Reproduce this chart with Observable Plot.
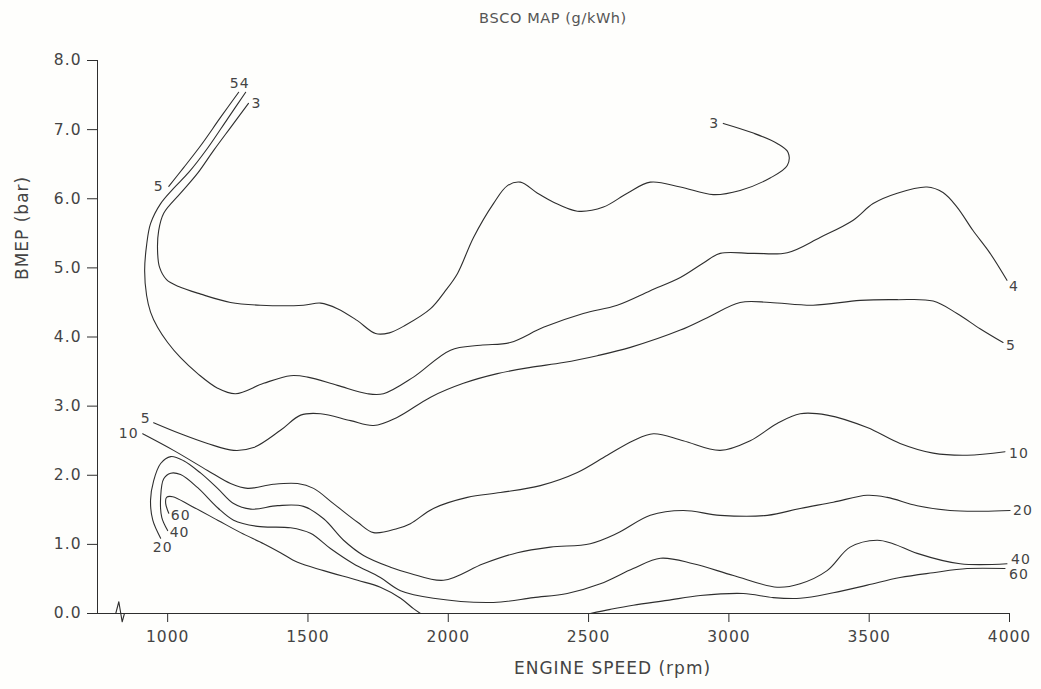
<!DOCTYPE html>
<html><head><meta charset="utf-8">
<script src="https://cdn.jsdelivr.net/npm/d3@7"></script>
<script src="https://cdn.jsdelivr.net/npm/@observablehq/plot@0.6"></script>
<style>
body{margin:0;background:#fefefc;}
#title{height:36px;padding-left:97px;width:912px;text-align:center;font-family:"DejaVu Sans";font-size:14.5px;letter-spacing:0.6px;color:#555;line-height:36px;}
#chart svg text{letter-spacing:1px;}
</style></head><body>
<div id="title">BSCO MAP (g/kWh)</div>
<div id="chart"></div>
<script>
// Axis setup (rpm, bar)
const xDomain = [750, 4000];
const yDomain = [0, 8];
const xTicks = [1000, 1500, 2000, 2500, 3000, 3500, 4000];
const yTicks = [0, 1, 2, 3, 4, 5, 6, 7, 8];
const axisBreak = [[815, 0], [826, 0.17], [838, -0.12], [846, 0]];

// Contours of BSCO (g/kWh): [engine speed rpm, BMEP bar]
const c3 = [[1288,7.38],[1224,7.03],[1164,6.70],[1107,6.37],[1046,6.08],[986,5.79],[968,5.54],[964,5.25],[971,5.01],[996,4.83],[1039,4.73],[1118,4.62],[1224,4.50],[1331,4.46],[1484,4.46],[1545,4.49],[1605,4.41],[1675,4.24],[1741,4.05],[1790,4.06],[1847,4.17],[1937,4.41],[1990,4.67],[2033,4.92],[2090,5.44],[2161,5.93],[2211,6.19],[2257,6.24],[2318,6.08],[2375,5.95],[2460,5.82],[2553,5.88],[2638,6.08],[2720,6.24],[2827,6.17],[2944,6.06],[3040,6.12],[3147,6.30],[3208,6.48],[3211,6.67],[3172,6.80],[3087,6.95],[2980,7.09]];
const c4 = [[1278,7.54],[1214,7.16],[1142,6.73],[1075,6.38],[1021,6.15],[975,5.93],[939,5.64],[925,5.33],[918,4.96],[925,4.60],[939,4.36],[964,4.14],[1000,3.92],[1046,3.70],[1107,3.47],[1178,3.26],[1242,3.18],[1342,3.33],[1438,3.44],[1499,3.42],[1605,3.30],[1712,3.18],[1769,3.18],[1876,3.42],[2008,3.81],[2115,3.88],[2221,3.92],[2339,4.14],[2481,4.34],[2602,4.46],[2720,4.67],[2827,4.86],[2909,5.07],[2969,5.21],[3087,5.21],[3208,5.22],[3325,5.44],[3443,5.69],[3514,5.93],[3600,6.08],[3706,6.17],[3763,6.09],[3813,5.88],[3870,5.54],[3931,5.21],[3991,4.82]];
const c5a = [[1253,7.54],[1189,7.18],[1118,6.77],[1057,6.45],[1004,6.18]];
const c5b = [[950,2.76],[1046,2.60],[1142,2.46],[1235,2.36],[1306,2.40],[1402,2.65],[1474,2.87],[1545,2.89],[1652,2.79],[1734,2.72],[1819,2.84],[1937,3.13],[2054,3.33],[2175,3.47],[2293,3.56],[2410,3.63],[2531,3.73],[2649,3.85],[2827,4.10],[2923,4.28],[3040,4.50],[3147,4.50],[3300,4.46],[3468,4.53],[3600,4.54],[3728,4.52],[3813,4.34],[3895,4.12],[3977,3.92]];
const c10 = [[911,2.60],[1021,2.36],[1142,2.07],[1224,1.88],[1285,1.81],[1377,1.87],[1463,1.88],[1520,1.81],[1591,1.59],[1677,1.32],[1734,1.17],[1819,1.23],[1865,1.30],[1947,1.52],[2068,1.68],[2186,1.75],[2328,1.85],[2460,2.04],[2567,2.29],[2659,2.50],[2731,2.60],[2837,2.50],[2969,2.36],[3076,2.50],[3172,2.75],[3254,2.89],[3350,2.87],[3493,2.69],[3610,2.46],[3728,2.32],[3849,2.29],[3984,2.34]];
const c20 = [[975,1.09],[947,1.35],[939,1.64],[950,1.92],[975,2.17],[1011,2.27],[1057,2.21],[1118,2.03],[1178,1.81],[1235,1.59],[1296,1.51],[1392,1.56],[1484,1.55],[1556,1.37],[1627,1.06],[1698,0.84],[1794,0.67],[1865,0.58],[1983,0.48],[2125,0.72],[2246,0.88],[2364,0.96],[2506,1.01],[2602,1.16],[2720,1.42],[2837,1.49],[2969,1.42],[3137,1.42],[3254,1.52],[3372,1.61],[3493,1.71],[3564,1.68],[3671,1.56],[3788,1.49],[3906,1.48],[4002,1.49]];
const c40 = [[1000,1.20],[979,1.39],[975,1.68],[986,1.95],[1011,2.03],[1046,2.01],[1107,1.82],[1178,1.53],[1235,1.35],[1320,1.26],[1438,1.24],[1509,1.16],[1580,0.94],[1662,0.72],[1758,0.52],[1830,0.33],[1947,0.22],[2161,0.16],[2303,0.23],[2424,0.29],[2542,0.43],[2659,0.65],[2756,0.80],[2873,0.72],[3016,0.55],[3172,0.38],[3254,0.43],[3350,0.62],[3432,0.96],[3528,1.06],[3585,1.01],[3671,0.87],[3824,0.72],[3991,0.72]];
const c60a = [[1004,1.45],[993,1.59],[996,1.68],[1018,1.69],[1082,1.56],[1178,1.35],[1260,1.17],[1342,1.01],[1402,0.88],[1463,0.74],[1556,0.62],[1677,0.48],[1758,0.38],[1830,0.22],[1876,0.07],[1901,0]];
const c60b = [[2506,0],[2578,0.06],[2659,0.12],[2780,0.19],[2898,0.26],[3051,0.29],[3158,0.23],[3254,0.22],[3372,0.30],[3493,0.41],[3610,0.52],[3728,0.59],[3849,0.65],[3984,0.65]];

const contours = {c3, c4, c5a, c5b, c10, c20, c40, c60a, c60b};
const endPoint = (name, at) => {
  const a = contours[name];
  const p = at === "start" ? a[0] : a[a.length - 1];
  return [{x: p[0], y: p[1]}];
};
const ink = "#2e2e2e";
const textInk = "#444";
const lbl = (text, name, at, opts) =>
  Plot.text(endPoint(name, at), {x: "x", y: "y", text: () => text, fontSize: 14, fill: textInk, ...opts});

const lineMarks = Object.values(contours).map(a =>
  Plot.line(a, {x: d => d[0], y: d => d[1], curve: "catmull-rom", stroke: ink, strokeWidth: 1.1}));

const chart = Plot.plot({
  width: 1041,
  height: 653,
  marginTop: 24,
  marginBottom: 76,
  marginLeft: 97,
  marginRight: 32,
  style: {fontFamily: "DejaVu Sans", background: "transparent", color: textInk},
  x: {domain: xDomain},
  y: {domain: yDomain},
  marks: [
    Plot.ruleY([yDomain[0]], {stroke: ink, strokeWidth: 1}),
    Plot.ruleX([xDomain[0]], {stroke: ink, strokeWidth: 1}),
    Plot.axisX({ticks: xTicks, tickFormat: d3.format("d"), tickSize: 9, tickPadding: 8, fontSize: 15.5, label: null, stroke: ink, fill: textInk}),
    Plot.axisY({ticks: yTicks, tickFormat: d3.format(".1f"), tickSize: 10, tickPadding: 6, fontSize: 15.5, label: null, stroke: ink, fill: textInk}),
    Plot.line(axisBreak, {x: d => d[0], y: d => d[1], stroke: ink, strokeWidth: 1.1, clip: false}),
    ...lineMarks,
    lbl("5", "c5a", "start", {dx: -4, dy: -9}),
    lbl("4", "c4", "start", {dx: -1, dy: -9}),
    lbl("3", "c3", "start", {textAnchor: "start", dx: 3, dy: 0}),
    lbl("5", "c5a", "end", {textAnchor: "end", dx: -5, dy: 0}),
    lbl("3", "c3", "end", {textAnchor: "end", dx: -4, dy: 0}),
    lbl("4", "c4", "end", {textAnchor: "start", dx: 2, dy: 6}),
    lbl("5", "c5b", "end", {textAnchor: "start", dx: 3, dy: 3}),
    lbl("10", "c10", "end", {textAnchor: "start", dx: 4, dy: 2}),
    lbl("20", "c20", "end", {textAnchor: "start", dx: 3, dy: 0}),
    lbl("40", "c40", "end", {textAnchor: "start", dx: 4, dy: -4}),
    lbl("60", "c60b", "end", {textAnchor: "start", dx: 4, dy: 6}),
    lbl("5", "c5b", "start", {textAnchor: "end", dx: -3, dy: -4}),
    lbl("10", "c10", "start", {textAnchor: "end", dx: -4, dy: 0}),
    lbl("20", "c20", "start", {dx: 2, dy: 9}),
    lbl("40", "c40", "start", {textAnchor: "start", dx: 2, dy: 2}),
    lbl("60", "c60a", "start", {textAnchor: "start", dx: 2, dy: 2}),
    Plot.text(["BMEP (bar)"], {frameAnchor: "left", rotate: -90, dx: -75, dy: -57, fontSize: 17, fill: textInk}),
    Plot.text(["ENGINE SPEED (rpm)"], {frameAnchor: "bottom", dx: 59, dy: 60, fontSize: 17, fill: textInk})
  ]
});
document.getElementById("chart").appendChild(chart);
</script></body></html>
